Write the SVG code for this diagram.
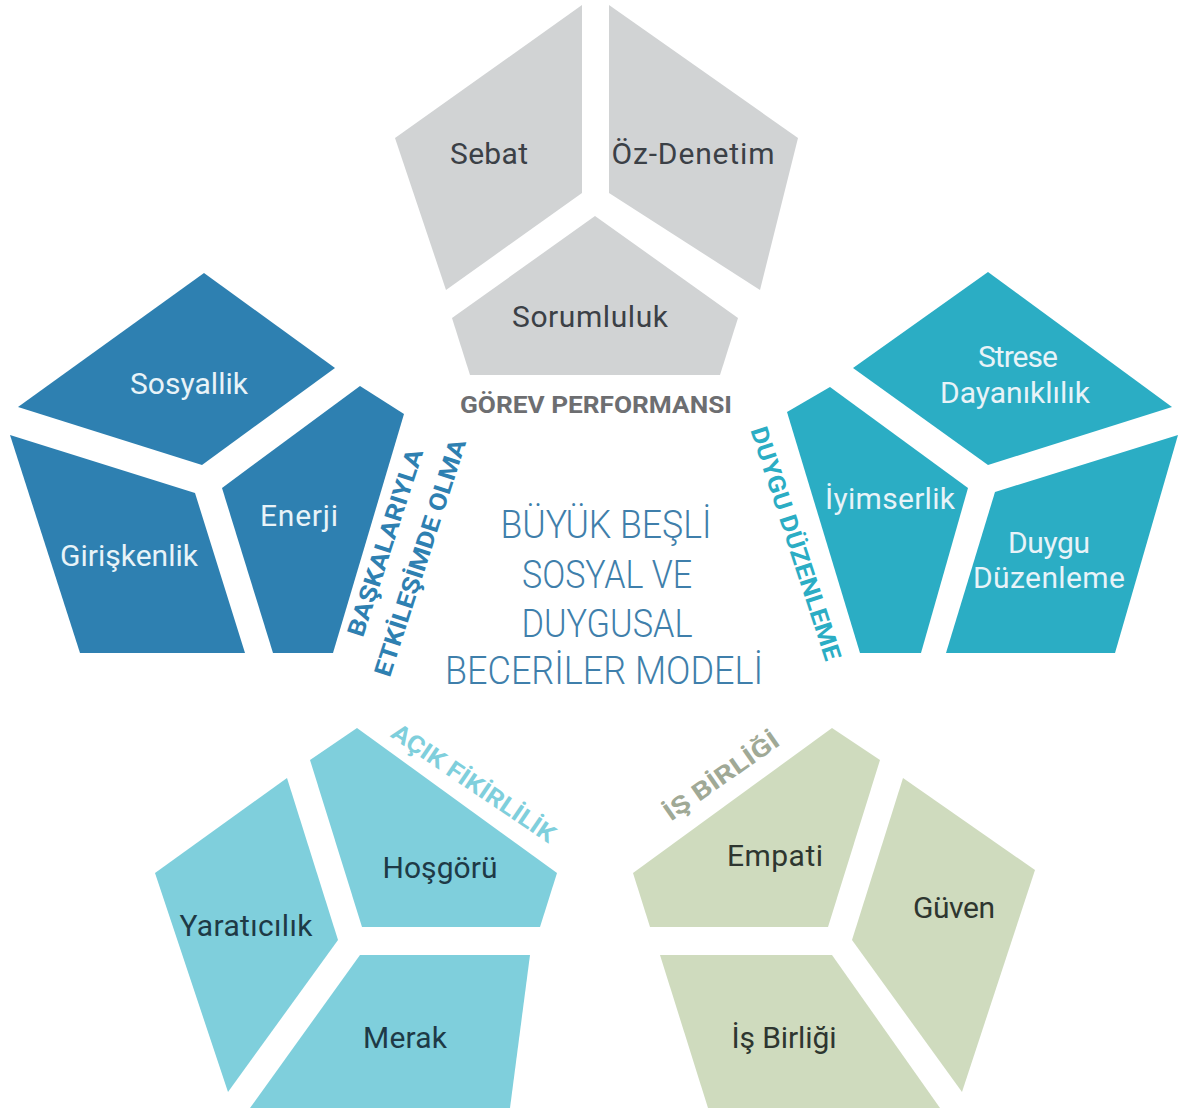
<svg xmlns="http://www.w3.org/2000/svg" width="1186" height="1115" viewBox="0 0 1186 1115">
<style>
.gray{fill:#d1d3d4}.blue{fill:#2e80b1}.teal{fill:#2badc4}.lteal{fill:#7fcfdc}.sage{fill:#cfdbbe}
.t{font-family:Roboto,"Liberation Sans",sans-serif;font-size:30px;text-anchor:middle}
.dk{fill:#3b4046}.wh{fill:#e8f3f8}.nv{fill:#1e3a46}.gr{fill:#2e3630}
.lbl{font-family:Roboto,"Liberation Sans",sans-serif;font-weight:700;font-size:24px;text-anchor:middle}
.title{font-family:Roboto,"Liberation Sans",sans-serif;font-weight:300;font-size:38px;text-anchor:middle;fill:#3f7fab}
</style>
<rect width="1186" height="1115" fill="#ffffff"/>
<g id="connectors"/>
<!-- Görev Performansı -->
<g id="sebat"><polygon class="gray" points="582,5 582,193 446,290 395,138"/><text class="t dk" x="489" y="164" textLength="78">Sebat</text></g>
<g id="oz-denetim"><polygon class="gray" points="609,5 609,193 760,290 798,138"/><text class="t dk" x="693" y="164" textLength="163">Öz-Denetim</text></g>
<g id="sorumluluk"><polygon class="gray" points="595,216 738,318 720,375 470,375 452,318"/><text class="t dk" x="590" y="327" textLength="156">Sorumluluk</text></g>
<g id="label-gorev"><text class="lbl" x="596" y="413" fill="#6d6e71" textLength="272" lengthAdjust="spacingAndGlyphs">GÖREV PERFORMANSI</text></g>
<!-- Başkalarıyla etkileşimde olma -->
<g id="sosyallik"><polygon class="blue" points="204,273 335,368 202,465 18,407"/><text class="t wh" x="189" y="394" textLength="118">Sosyallik</text></g>
<g id="giriskenlik"><polygon class="blue" points="10,435 195,493 245,653 80,653"/><text class="t wh" x="129" y="566" textLength="138">Girişkenlik</text></g>
<g id="enerji"><polygon class="blue" points="360,386 404,414 333,653 273,653 222,488"/><text class="t wh" x="299" y="526" textLength="78">Enerji</text></g>
<g id="label-baskalariyla">
<text class="lbl" fill="#2e80b1" transform="translate(393,545) rotate(-72)" textLength="196" lengthAdjust="spacingAndGlyphs">BAŞKALARIYLA</text>
<text class="lbl" fill="#2e80b1" transform="translate(428,560) rotate(-72)" textLength="248" lengthAdjust="spacingAndGlyphs">ETKİLEŞİMDE OLMA</text>
</g>
<!-- Duygu Düzenleme -->
<g id="strese"><polygon class="teal" points="988,272 1172,407 988,465 853,368"/><text class="t wh" x="1018" y="367" textLength="80">Strese</text><text class="t wh" x="1015" y="403" textLength="150">Dayanıklılık</text></g>
<g id="iyimserlik"><polygon class="teal" points="787,412 830,387 968,488 921,653 860,653"/><text class="t wh" x="890" y="509" textLength="130">İyimserlik</text></g>
<g id="duygu-duzenleme"><polygon class="teal" points="995,492 1178,435 1115,653 946,653"/><text class="t wh" x="1049" y="553" textLength="82">Duygu</text><text class="t wh" x="1049" y="588" textLength="152">Düzenleme</text></g>
<g id="label-duygu"><text class="lbl" fill="#2badc4" transform="translate(788,546) rotate(72)" textLength="244" lengthAdjust="spacingAndGlyphs">DUYGU DÜZENLEME</text></g>
<!-- Açık Fikirlilik -->
<g id="yaraticilik"><polygon class="lteal" points="287,778 338,940 228,1092 155,873"/><text class="t nv" x="246" y="936" textLength="133">Yaratıcılık</text></g>
<g id="hosgoru"><polygon class="lteal" points="357,728 557,873 540,927 362,927 310,760"/><text class="t nv" x="440" y="878" textLength="115">Hoşgörü</text></g>
<g id="merak"><polygon class="lteal" points="360,955 530,955 510,1108 250,1108"/><text class="t nv" x="405" y="1048" textLength="84">Merak</text></g>
<g id="label-acik"><text class="lbl" fill="#7fcfdc" transform="translate(469,790) rotate(34)" textLength="192" lengthAdjust="spacingAndGlyphs">AÇIK FİKİRLİLİK</text></g>
<!-- İş Birliği -->
<g id="empati"><polygon class="sage" points="832,728 880,760 828,927 650,927 633,873"/><text class="t gr" x="775" y="866" textLength="96">Empati</text></g>
<g id="guven"><polygon class="sage" points="903,778 1035,870 962,1092 852,940"/><text class="t gr" x="954" y="918" textLength="82">Güven</text></g>
<g id="is-birligi-node"><polygon class="sage" points="660,955 832,955 940,1108 708,1108"/><text class="t gr" x="784" y="1048" textLength="105">İş Birliği</text></g>
<g id="label-is"><text class="lbl" fill="#a0a996" transform="translate(726,783) rotate(-35)" textLength="135" lengthAdjust="spacingAndGlyphs">İŞ BİRLİĞİ</text></g>
<!-- Center title -->
<g id="title">
<text class="title" x="606" y="538" textLength="211" lengthAdjust="spacingAndGlyphs">BÜYÜK BEŞLİ</text>
<text class="title" x="607" y="588" textLength="170" lengthAdjust="spacingAndGlyphs">SOSYAL VE</text>
<text class="title" x="607" y="637" textLength="171" lengthAdjust="spacingAndGlyphs">DUYGUSAL</text>
<text class="title" x="604" y="684" textLength="318" lengthAdjust="spacingAndGlyphs">BECERİLER MODELİ</text>
</g>
</svg>
